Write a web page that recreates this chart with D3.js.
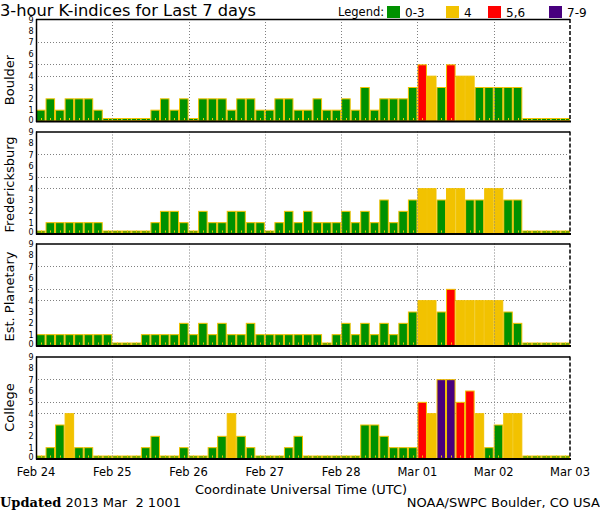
<!DOCTYPE html>
<html>
<head>
<meta charset="utf-8">
<script src="https://cdn.jsdelivr.net/npm/d3@7"></script>
<style>
  html, body { margin: 0; padding: 0; background: #ffffff; }
  svg { display: block; }
  text { font-family: "DejaVu Sans", "Liberation Sans", sans-serif; fill: #000; }
</style>
</head>
<body>
<svg id="chart" width="600" height="510"></svg>
<script>
// ---------------- DATA ----------------
const stations = ["Boulder", "Fredericksburg", "Est. Planetary", "College"];
const dayLabels = ["Feb 24", "Feb 25", "Feb 26", "Feb 27", "Feb 28", "Mar 01", "Mar 02", "Mar 03"];
const startDate = "2013-02-24T00:00:00Z";
const endDate = "2013-03-03T00:00:00Z";
const yTicks = [0, 1, 2, 3, 4, 5, 6, 7, 8, 9];
const gridLevels = [4, 5, 7];

// 3-hour K-index values, 56 slots (8 per day), null = not yet available
const boulder = [1,2,1,2,2,2,1,0, 0,0,0,0,1,2,1,2, 0,2,2,2,1,2,2,1, 1,2,2,1,1,2,1,1,
                 2,1,3,1,2,2,2,3, 5,4,3,5,4,4,3,3, 3,3,3,null,null,null,null,null];
const fredericksburg = [0,1,1,1,1,1,1,0, 0,0,0,0,1,2,2,1, 0,2,1,1,2,2,1,1, 0,1,2,1,2,1,1,1,
                 2,1,2,1,3,1,2,3, 4,4,3,4,4,3,3,4, 4,3,3,null,null,null,null,null];
const planetary = [1,1,1,1,1,1,1,1, 0,0,0,1,1,1,1,2, 1,2,1,2,1,1,2,1, 1,1,1,1,1,1,0,1,
                 2,1,2,1,2,1,2,3, 4,4,3,5,4,4,4,4, 4,3,2,null,null,null,null,null];
const college = [0,1,3,4,1,1,0,0, 0,0,0,1,2,0,0,1, 0,0,1,2,4,2,1,0, 0,0,1,2,0,0,0,0,
                 0,0,3,3,2,1,1,1, 5,4,7,7,5,6,4,1, 3,4,4,null,null,null,null,null];
const series = [boulder, fredericksburg, planetary, college];

const legendLabels = ["0-3", "4", "5,6", "7-9"];
const legendColors = ["#009100", "#f2c200", "#ff0000", "#48007e"];

// ---------------- LAYOUT ----------------
const svg = d3.select("#chart");
const left = 36, right = 570;
const panelTops = [19, 131.5, 243.5, 356.5];
const panelH = 102;
const labelOffsets = [10, 2, 2, 0];
const outline = "#f2c200";

const t0 = new Date(startDate), t1 = new Date(endDate);
const x = d3.scaleUtc().domain([t0, t1]).range([left, right]);
const slotMs = 3 * 3600 * 1000;
const slotTime = i => new Date(t0.getTime() + i * slotMs);
const slotW = x(slotTime(1)) - x(slotTime(0));
const dayTicks = d3.utcDay.range(t0, new Date(t1.getTime() + 1));

function colorFor(v) {
  if (v == null || v <= 3) return legendColors[0];
  if (v === 4) return legendColors[1];
  if (v <= 6) return legendColors[2];
  return legendColors[3];
}

series.forEach((vals, p) => {
  const top = panelTops[p];
  const y = d3.scaleLinear().domain([0, 9]).range([top + panelH, top]);
  const g = svg.append("g");
  const y0 = y(0);

  // horizontal dotted grid (behind bars)
  g.selectAll("line.hgrid").data(gridLevels).join("line")
    .attr("x1", left + 2).attr("x2", right - 1)
    .attr("y1", d => Math.round(y(d)) + 0.5).attr("y2", d => Math.round(y(d)) + 0.5)
    .attr("stroke", "#808080").attr("stroke-width", 1).attr("stroke-dasharray", "1,2");

  // bars
  g.selectAll("rect.bar").data(vals).join("rect")
    .attr("x", (d, i) => x(slotTime(i)) + 0.5)
    .attr("width", slotW - 1)
    .attr("y", d => (d && d > 0) ? y(d) + 0.5 : y0 - 2.5)
    .attr("height", d => (d && d > 0) ? (y0 - y(d) - 0.5) : 2)
    .attr("fill", d => colorFor(d))
    .attr("stroke", outline).attr("stroke-width", 1);

  // small yellow ticks at slot centres
  g.selectAll("rect.tk").data(vals).join("rect")
    .attr("x", (d, i) => Math.round(x(slotTime(i)) + slotW / 2))
    .attr("y", y0 - 3).attr("width", 1).attr("height", 2)
    .attr("fill", outline);

  // vertical day grid (on top)
  g.selectAll("line.vgrid").data(dayTicks.slice(1, -1)).join("line")
    .attr("x1", d => Math.round(x(d)) + 0.5).attr("x2", d => Math.round(x(d)) + 0.5)
    .attr("y1", top).attr("y2", y0)
    .attr("stroke", "#808080").attr("stroke-width", 1).attr("stroke-dasharray", "1,2");

  // frame
  g.append("line").attr("x1", left).attr("x2", right).attr("y1", top + 0.5).attr("y2", top + 0.5)
    .attr("stroke", "#000").attr("stroke-width", 1.5);
  g.append("line").attr("x1", left + 0.5).attr("x2", left + 0.5).attr("y1", top).attr("y2", y0 + 1)
    .attr("stroke", "#000").attr("stroke-width", 1.5);
  g.append("line").attr("x1", right).attr("x2", right).attr("y1", top).attr("y2", y0 + 1)
    .attr("stroke", "#000").attr("stroke-width", 1.5).attr("stroke-dasharray", "4,2");
  g.append("line").attr("x1", left).attr("x2", right + 1).attr("y1", y0 + 0.5).attr("y2", y0 + 0.5)
    .attr("stroke", "#000").attr("stroke-width", 2);

  // y tick labels
  g.selectAll("text.yt").data(yTicks).join("text")
    .attr("x", 33.5).attr("y", d => d === 0 ? y0 + 1.5 : y(d) + 3.5)
    .attr("text-anchor", "end").attr("font-size", 8).text(d => d);

  // station label
  const cy = top + panelH / 2 + labelOffsets[p];
  g.append("text")
    .attr("transform", `translate(14,${cy}) rotate(-90)`)
    .attr("text-anchor", "middle").attr("font-size", 13)
    .text(stations[p]);
});

// x axis labels (bottom)
const lastZero = panelTops[3] + panelH;
svg.selectAll("text.xl").data(dayTicks).join("text")
  .attr("x", d => x(d)).attr("y", lastZero + 17)
  .attr("text-anchor", "middle").attr("font-size", 11.5)
  .text((d, i) => dayLabels[i]);

svg.append("text").attr("x", 301).attr("y", 494).attr("text-anchor", "middle")
  .attr("font-size", 13).text("Coordinate Universal Time (UTC)");

// title
svg.append("text").attr("x", 0).attr("y", 16).attr("font-size", 15)
  .attr("textLength", 256).attr("lengthAdjust", "spacingAndGlyphs")
  .text("3-hour K-indices for Last 7 days");

// legend
const lg = svg.append("g");
lg.append("text").attr("x", 338).attr("y", 16).attr("font-size", 11.5).text("Legend:");
const legX = [387, 446, 488, 549];
legendLabels.forEach((lab, i) => {
  lg.append("rect").attr("x", legX[i]).attr("y", 6).attr("width", 13).attr("height", 12)
    .attr("fill", legendColors[i]);
  lg.append("text").attr("x", legX[i] + 18).attr("y", 17).attr("font-size", 12).text(lab);
});

// footer
const ft = svg.append("text").attr("x", 0).attr("y", 507).attr("font-size", 13);
ft.append("tspan").attr("font-family", "'DejaVu Serif', 'Liberation Serif', serif")
  .attr("font-weight", "bold").text("Updated");
ft.append("tspan").text(" 2013 Mar  2 1001").attr("xml:space", "preserve");
svg.append("text").attr("x", 600).attr("y", 507).attr("text-anchor", "end")
  .attr("font-size", 13).text("NOAA/SWPC Boulder, CO USA");
</script>
</body>
</html>
